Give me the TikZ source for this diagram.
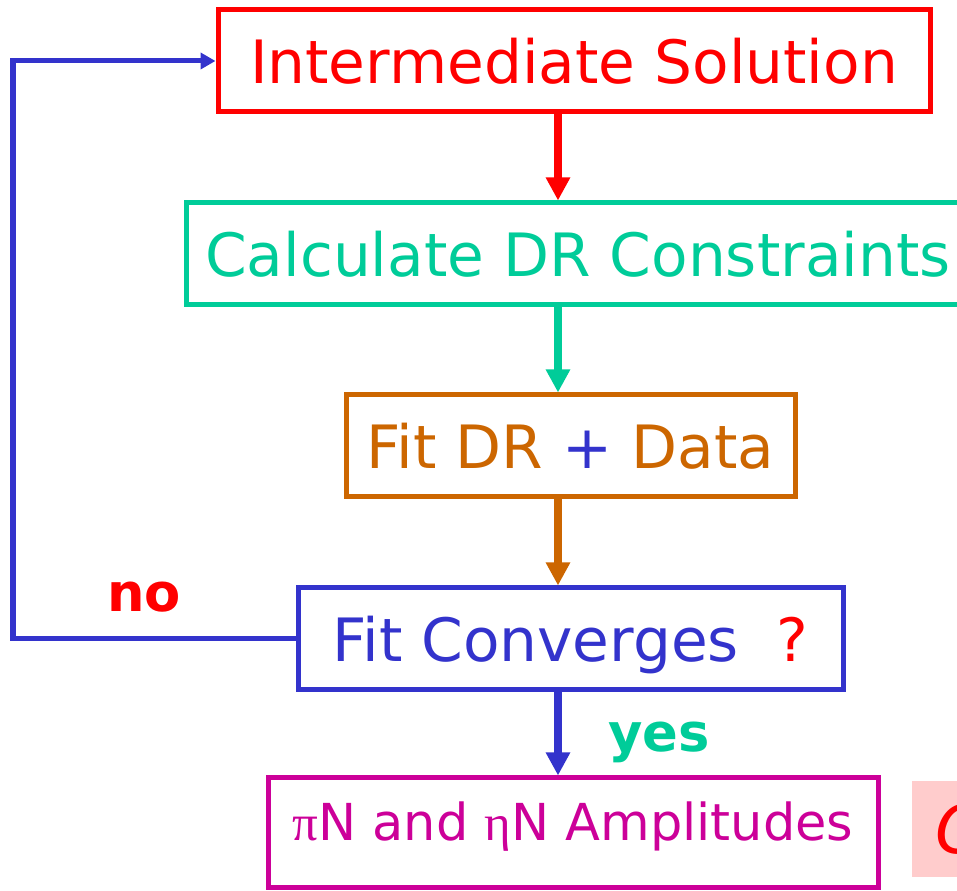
\documentclass[tikz,border=0pt]{standalone}
\usepackage{fontspec}
\setmainfont{DejaVu Sans}
\newfontfamily\greekfont{Liberation Serif}
\usetikzlibrary{arrows.meta,positioning,calc}

\definecolor{stepred}{RGB}{255,0,0}
\definecolor{stepteal}{RGB}{0,204,153}
\definecolor{steporange}{RGB}{204,102,0}
\definecolor{stepblue}{RGB}{51,51,204}
\definecolor{stepmagenta}{RGB}{204,0,153}
\definecolor{notepink}{RGB}{255,204,204}

\begin{document}
\begin{tikzpicture}[
    stagebox/.style={draw, line width=0.1cm, minimum height=2.04cm, inner sep=0pt,
                     font=\fontsize{34}{40}\selectfont, text height=1.1cm, text depth=0.215cm},
    flow/.style={line width=0.15cm, -{Triangle[length=0.46cm, width=0.46cm]}},
    answer/.style={font=\fontsize{30}{36}\selectfont\bfseries, anchor=base}]
  \useasboundingbox (0,0) rectangle (19.14,17.82);
  \clip (0,0) rectangle (19.14,17.82);

  % Stages
  \node[stagebox, draw=stepred, text=stepred, minimum width=14.24cm] (inter) at (11.48, 16.6)
       {Intermediate Solution};
  \node[stagebox, draw=stepteal, text=stepteal, minimum width=15.68cm] (calc) at (11.56, 12.74)
       {Calculate DR Constraints};
  \node[stagebox, draw=steporange, text=steporange, minimum width=8.98cm] (fitdr) at (11.41, 8.9)
       {Fit DR {\color{stepblue}+} Data};
  \node[stagebox, draw=stepblue, text=stepblue, minimum width=10.9cm] (conv) at (11.41, 5.04)
       {Fit Converges\ \ {\color{stepred}?}};
  \node[stagebox, draw=stepmagenta, text=stepmagenta, minimum width=12.2cm, minimum height=2.2cm,
        font=\fontsize{29}{34}\selectfont, text height=0.9cm, text depth=0.6cm] (ampl) at (11.46, 1.16)
       {{\greekfont π}N and {\greekfont η}N Amplitudes};

  % Side note, cut at the edge
  \node[fill=notepink, text=stepred, anchor=south west, inner xsep=0.46cm, inner ysep=0pt,
        minimum height=1.92cm, text height=0.98cm, text depth=0cm,
        font=\fontsize{38}{44}\selectfont\itshape] (note) at (18.24, 0.28) {C};

  % Main flow
  \coordinate (spine) at (11.16, 0);
  \draw[flow, stepred] (inter.south -| spine) -- (calc.north -| spine);
  \draw[flow, stepteal] (calc.south -| spine) -- (fitdr.north -| spine);
  \draw[flow, steporange] (fitdr.south -| spine) -- (conv.north -| spine);
  \draw[flow, stepblue] (conv.south -| spine) -- (ampl.north -| spine);

  % Loop back
  \coordinate (loopx) at (0.26, 0);
  \draw[stepblue, line width=0.1cm, -{Triangle[length=0.3cm, width=0.32cm]}]
    (conv.west) -- (conv.west -| loopx) -- (inter.west -| loopx) -- (inter.west);

  \node[answer, text=stepred] (no) at (2.88, 5.58) {no};
  \node[answer, text=stepteal] (yes) at (13.18, 2.78) {yes};
\end{tikzpicture}
\end{document}
